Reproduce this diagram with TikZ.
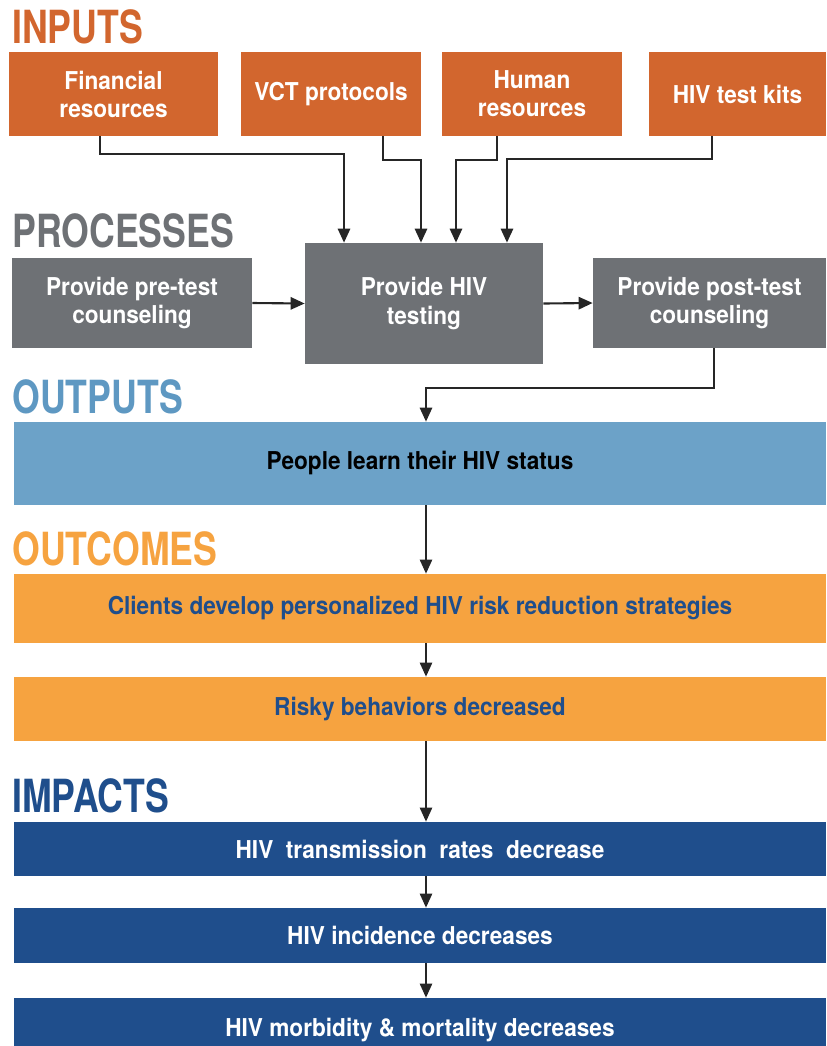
\documentclass[tikz,border=0pt]{standalone}
\usepackage{fontspec}
\setmainfont{TeX Gyre Heros}[FakeStretch=0.92]
\newfontfamily\titlefont{TeX Gyre Heros}[FakeStretch=0.78]
\usetikzlibrary{arrows.meta}
\definecolor{inputorange}{HTML}{D2662E}
\definecolor{procgray}{HTML}{6E7175}
\definecolor{outblue}{HTML}{6CA2C8}
\definecolor{outtitle}{HTML}{5E98C2}
\definecolor{outcomeorange}{HTML}{F6A340}
\definecolor{impactblue}{HTML}{1F4E8C}
\begin{document}
\begin{tikzpicture}[
  x=0.02cm, y=-0.02cm,
  title/.style={anchor=base west, inner sep=0pt, font=\titlefont\fontsize{26}{26}\selectfont\bfseries},
  box/.style={rectangle, inner sep=2pt, align=center, font=\fontsize{14}{16}\selectfont\bfseries},
  inbox/.style={box, fill=inputorange, text=white, minimum height=1.68cm},
  procbox/.style={box, fill=procgray, text=white},
  widebox/.style={box, minimum width=16.24cm},
  link/.style={draw=black!85, line width=1.2pt, -{Triangle[width=7pt,length=8pt]}}
]
\useasboundingbox (0,0) rectangle (826,1046);

\node[title, text=inputorange] (intitle) at (12,43) {INPUTS};
\node[inbox, minimum width=4.18cm] (fin) at (113.5,94) {Financial\\resources};
\node[inbox, minimum width=3.6cm] (vct) at (331,94) {VCT protocols};
\node[inbox, minimum width=3.6cm] (hum) at (532,94) {Human\\resources};
\node[inbox, minimum width=3.54cm] (kits) at (737.5,94) {HIV test kits};

\node[title, text=procgray] (proctitle) at (12,247) {PROCESSES};
\node[procbox, minimum width=4.8cm, minimum height=1.8cm] (pre) at (132,303) {Provide pre-test\\counseling};
\node[procbox, minimum width=4.76cm, minimum height=2.42cm] (hivtest) at (424,303.5) {Provide HIV\\testing};
\node[procbox, minimum width=4.66cm, minimum height=1.8cm] (post) at (709.5,303) {Provide post-test\\counseling};

\node[title, text=outtitle] (outtitle) at (12,413) {OUTPUTS};
\node[widebox, fill=outblue, text=black, minimum height=1.66cm] (learn) at (420,463.5) {People learn their HIV status};

\node[title, text=outcomeorange] (outcmtitle) at (12,565) {OUTCOMES};
\node[widebox, fill=outcomeorange, text=impactblue, minimum height=1.38cm] (client) at (420,608.5) {Clients develop personalized HIV risk reduction strategies};
\node[widebox, fill=outcomeorange, text=impactblue, minimum height=1.28cm] (risky) at (420,709) {Risky behaviors decreased};

\node[title, text=impactblue] (imptitle) at (12,812) {IMPACTS};
\node[widebox, fill=impactblue, text=white, minimum height=1.08cm] (trans) at (420,849) {HIV\ \ transmission\ \ rates\ \ decrease};
\node[widebox, fill=impactblue, text=white, minimum height=1.1cm] (incid) at (420,935.5) {HIV incidence decreases};
\node[widebox, fill=impactblue, text=white, minimum height=1.28cm] (morb) at (420,1030) {HIV morbidity \& mortality decreases};

\coordinate (spine) at (426,388);

\draw[link] ([xshift=-0.27cm]fin.south) -- ++(0,18) -| ([xshift=-1.6cm]hivtest.north);
\draw[link] ([xshift=1.04cm]vct.south) -- ++(0,24) -| ([xshift=-0.06cm]hivtest.north);
\draw[link] ([xshift=-0.7cm]hum.south) -- ++(0,24) -| ([xshift=0.64cm]hivtest.north);
\draw[link] ([xshift=-0.51cm]kits.south) -- ++(0,23) -| ([xshift=1.66cm]hivtest.north);
\draw[link] (pre.east) -- (hivtest.west);
\draw[link] (hivtest.east) -- (post.west);
\draw[link] ([xshift=0.09cm]post.south) |- (spine) -- (learn.north -| spine);
\draw[link, line width=1pt] (learn.south -| spine) -- (client.north -| spine);
\draw[link, line width=1pt] (client.south -| spine) -- (risky.north -| spine);
\draw[link, line width=1pt] (risky.south -| spine) -- (trans.north -| spine);
\draw[link, line width=1pt] (trans.south -| spine) -- (incid.north -| spine);
\draw[link, line width=1pt] (incid.south -| spine) -- (morb.north -| spine);
\end{tikzpicture}
\end{document}
